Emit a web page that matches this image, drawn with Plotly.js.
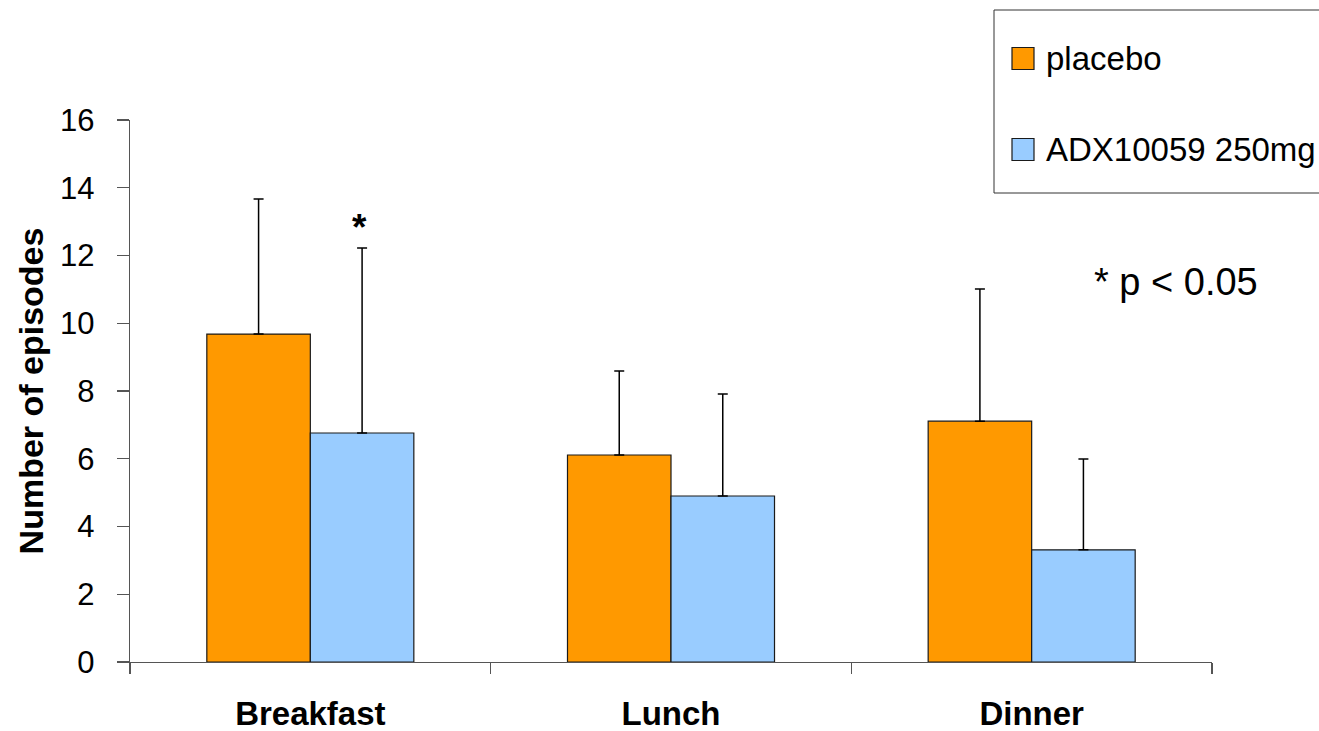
<!DOCTYPE html>
<html>
<head>
<meta charset="utf-8">
<script src="https://cdn.plot.ly/plotly-3.0.1.min.js"></script>
<style>
html,body{margin:0;padding:0;background:#fff;}
#chart{width:1319px;height:731px;}
</style>
</head>
<body>
<div id="chart"></div>
<script>
// ---- data ----
const categories = ["Breakfast", "Lunch", "Dinner"];
const seriesNames = ["placebo", "ADX10059 250mg"];
const placeboMean = [9.68, 6.11, 7.11];
const placeboSD   = [3.99, 2.48, 3.90];
const adxMean     = [6.76, 4.90, 3.31];
const adxSD       = [5.46, 3.01, 2.68];
const yTicks      = [0, 2, 4, 6, 8, 10, 12, 14, 16];
const sigLabel    = "*";
const sigNote     = "* p < 0.05";

// ---- styles ----
const FONT = "Liberation Sans, Arial, Helvetica, sans-serif";
const colors = ["#FF9900", "#99CCFF"];

function barTrace(name, mean, sd, color) {
  return {
    type: "bar",
    name: name,
    x: categories,
    y: mean,
    marker: {color: color, line: {color: "#1a1a1a", width: 1.2}},
    error_y: {
      type: "data", symmetric: false,
      array: sd, arrayminus: mean.map(() => 0),
      color: "#000", thickness: 1.5, width: 5
    },
    showlegend: false,
    hoverinfo: "x+y"
  };
}

const traces = [
  barTrace(seriesNames[0], placeboMean, placeboSD, colors[0]),
  barTrace(seriesNames[1], adxMean, adxSD, colors[1])
];

// manual legend (large swatches like the original)
const L = 130, W = 1082, T = 120, H = 542;
const px = v => (v - L) / W;
const py = v => (T + H - v) / H;

const shapes = [
  {type: "rect", xref: "paper", yref: "paper",
   x0: px(994), x1: px(1330), y0: py(193), y1: py(10),
   line: {color: "#333", width: 1}, fillcolor: "rgba(0,0,0,0)"}
];
const annotations = [];
const legendRows = [58.5, 149.5];
seriesNames.forEach((nm, i) => {
  const cy = legendRows[i];
  shapes.push({type: "rect", xref: "paper", yref: "paper",
    x0: px(1012), x1: px(1034), y0: py(cy + 11), y1: py(cy - 11),
    fillcolor: colors[i], line: {color: "#1a1a1a", width: 1.2}});
  annotations.push({xref: "paper", yref: "paper", x: px(1044), y: py(cy),
    xanchor: "left", yanchor: "middle", showarrow: false, text: nm,
    font: {family: FONT, size: 33, color: "#000"}});
});

// significance marker above ADX breakfast error bar
annotations.push({x: categories[0], y: adxMean[0] + adxSD[0], xref: "x", yref: "y",
  xshift: 49, yshift: -2, yanchor: "bottom", showarrow: false, text: "<b>" + sigLabel + "</b>",
  font: {family: FONT, size: 37, color: "#000"}});
annotations.push({xref: "paper", yref: "paper", x: px(1176), y: py(282),
  xanchor: "center", yanchor: "middle", showarrow: false, text: sigNote,
  font: {family: FONT, size: 38, color: "#000"}});

const layout = {
  width: 1319, height: 731,
  margin: {l: 130, r: 107, t: 120, b: 69, pad: 0},
  paper_bgcolor: "#fff", plot_bgcolor: "#fff",
  font: {family: FONT, color: "#000"},
  barmode: "group", bargap: 0.426, bargroupgap: 0,
  showlegend: false,
  xaxis: {
    type: "category",
    showgrid: false, zeroline: false,
    showline: true, linecolor: "#555", linewidth: 1.2,
    ticks: "outside", tickson: "boundaries", ticklen: 11, tickcolor: "#555", tickwidth: 1.2,
    tickfont: {family: FONT, size: 33, color: "#000", weight: "bold"},
    ticklabelstandoff: 22,
    fixedrange: true
  },
  yaxis: {
    range: [0, 16],
    tickvals: yTicks, ticktext: yTicks.map(String),
    showgrid: false, zeroline: false,
    showline: true, linecolor: "#555", linewidth: 1.2,
    ticks: "outside", ticklen: 12, tickcolor: "#555", tickwidth: 1.2,
    tickfont: {family: FONT, size: 31, color: "#000"},
    ticklabelstandoff: 16,
    title: {text: "<b>Number of episodes</b>", font: {family: FONT, size: 34, color: "#000"}, standoff: 6},
    automargin: false,
    fixedrange: true
  },
  shapes: shapes,
  annotations: annotations
};

Plotly.newPlot("chart", traces, layout, {displayModeBar: false, staticPlot: true});
</script>
</body>
</html>
